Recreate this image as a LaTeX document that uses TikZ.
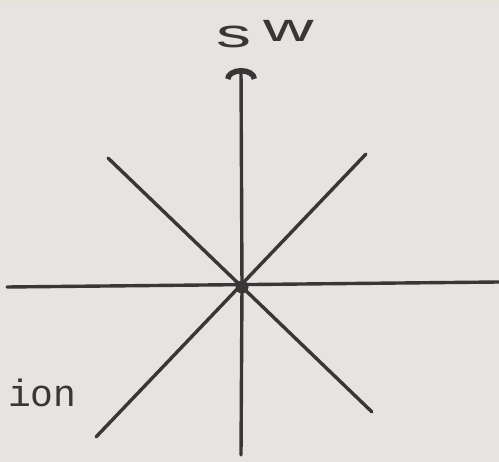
\documentclass[tikz,border=0pt]{standalone}
\usepackage{fontspec}
\usetikzlibrary{arrows.meta}
\definecolor{paper}{HTML}{E5E4E0}
\definecolor{ink}{HTML}{3A3536}
\newfontfamily\typefont{Liberation Mono}
\newfontfamily\handfont{Liberation Sans}
\tikzset{
  axis/.style={draw=ink, line width=3.4pt, line cap=round},
  hub/.style={circle, fill=ink, inner sep=0pt, minimum size=13pt},
}
\begin{document}
\begin{tikzpicture}[x=1pt,y=-1pt]
\fill[paper] (0,0) rectangle (499,462);
\fill[paper!92!yellow, opacity=0.6] (0,0) rectangle (499,3);
\useasboundingbox (0,0) rectangle (499,462);
\node[hub] (O) at (242,287) {};
\coordinate (T) at (241,68);
\coordinate (B) at (241,455);
\coordinate (L) at (7,287);
\coordinate (R) at (499,282);
\coordinate (UL) at (108,158);
\coordinate (LR) at (372,412);
\coordinate (UR) at (366,154);
\coordinate (LL) at (96,437);
\draw[axis] (O.center) -- (B);
\draw[axis, -{Arc Barb[length=11pt, width=32pt, line width=5.5pt]}] (O.center) -- (T);
\draw[axis] (L) -- (R);
\draw[axis] (UL) -- (LR);
\draw[axis] (UR) -- (LL);
\node[text=ink, font=\typefont\fontsize{38}{38}\selectfont, anchor=base west, inner sep=0pt] (ion) at (8,407) {ion};
\node[text=ink, font=\handfont\fontsize{40}{40}\selectfont, anchor=base west, inner sep=0pt, xscale=1.75] (sw) at (216,48) {s\,\raisebox{6pt}{w}};
\end{tikzpicture}
\end{document}
